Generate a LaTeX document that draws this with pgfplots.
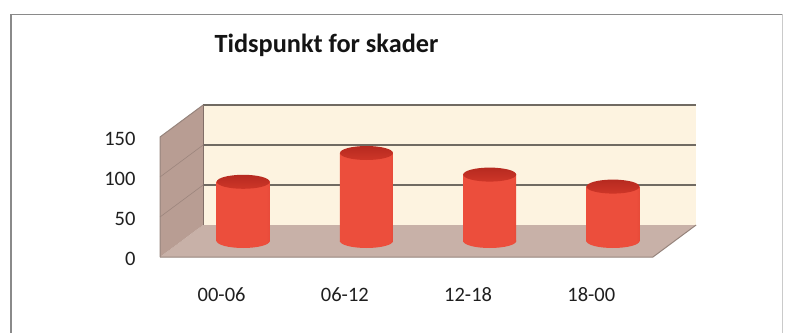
\documentclass[border=0pt]{standalone}
\usepackage{fontspec}
\setmainfont{Carlito}
\usepackage{pgfplots}
\pgfplotsset{compat=1.18}
\usepackage{pgfplotstable}

\definecolor{wallback}{RGB}{253,243,224}
\definecolor{wallside}{RGB}{184,157,147}
\definecolor{floorc}{RGB}{200,177,168}
\definecolor{edgec}{RGB}{150,132,124}
\definecolor{gridc}{RGB}{112,106,98}
\definecolor{cylL}{RGB}{236,78,60}
\definecolor{cylD}{RGB}{200,52,38}
\definecolor{cylR}{RGB}{186,42,30}
\definecolor{cylTop}{RGB}{206,54,40}
\definecolor{cylTopD}{RGB}{182,42,32}
\definecolor{frameC}{RGB}{138,138,138}

% side-lit cylinder surface: dark rims, flat bright middle
\pgfdeclarehorizontalshading{cylsurf}{100bp}{%
  color(0bp)=(cylD); color(12bp)=(cylL); color(72bp)=(cylL); color(100bp)=(cylR)}

% top and bottom faces of the cylinders
\pgfdeclareplotmark{cyltop}{%
  \shade[draw=none, top color=cylTopD, bottom color=cylTop] (0pt,0pt) ellipse (26.5pt and 7pt);}
\pgfdeclareplotmark{cylbot}{%
  \shade[draw=none, shading=cylsurf, shading angle=0] (0pt,0pt) ellipse (26.5pt and 7pt);}

\pgfplotsset{
  cylaxis/.style={
    at={(181.6pt,91pt)}, anchor=south west,
    scale only axis, width=536.1pt, height=152pt,
    xmin=-0.5, xmax=3.85, ymin=0, ymax=190,
    clip=false, hide axis},
  cylbody/.style={ybar, bar width=53pt, bar shift=0pt, draw=none,
    shading=cylsurf, shading angle=0, mark=cyltop},
}

\begin{document}
\begin{tikzpicture}
\useasboundingbox (0pt,0pt) rectangle (786pt,332pt);

% chart frame
\draw[frameC, line width=1.8pt] (11pt,-5pt) -- (11pt,317.5pt) -- (783pt,317.5pt);
\draw[frameC!45, line width=1pt] (782pt,317.5pt) -- (782pt,-5pt);

% walls, floor and value axis (front plane)
\begin{axis}[
  at={(160pt,75pt)}, anchor=south west,
  scale only axis, width=536.1pt, height=152pt,
  xmin=-0.5, xmax=3.85, ymin=0, ymax=190,
  clip=false,
  axis line style={draw=none},
  major tick length=0pt,
  xtick={0,1,2,3},
  xticklabels={00-06,06-12,12-18,18-00},
  ytick={0,50,100,150},
  /pgf/number format/assume math mode=true,
  xticklabel style={anchor=base, yshift=-44.5pt,
    font=\fontsize{20.5}{24}\selectfont, text=black!88},
  yticklabel style={anchor=base east, xshift=-21pt, yshift=-8pt,
    font=\fontsize{20.5}{24}\selectfont, text=black!88},
]
  % floor
  \fill[floorc] (axis cs:-0.5,0) -- (axis cs:3.5,0) -- (axis cs:3.85,40) -- (axis cs:-0.15,40) -- cycle;
  % back wall
  \fill[wallback] (axis cs:-0.15,40) -- (axis cs:3.85,40) -- (axis cs:3.85,190) -- (axis cs:-0.15,190) -- cycle;
  % side wall
  \fill[wallside] (axis cs:-0.5,0) -- (axis cs:-0.5,150) -- (axis cs:-0.15,190) -- (axis cs:-0.15,40) -- cycle;
  % gridlines on the back wall and side wall
  \draw[gridc, line width=1.3pt] (axis cs:-0.15,90) -- (axis cs:3.85,90);
  \draw[gridc, line width=1.3pt] (axis cs:-0.15,140) -- (axis cs:3.85,140);
  \draw[gridc, line width=1.3pt] (axis cs:-0.15,190) -- (axis cs:3.85,190);
  \draw[wallside!85!black, line width=0.6pt] (axis cs:-0.5,50) -- (axis cs:-0.15,90);
  \draw[wallside!85!black, line width=0.6pt] (axis cs:-0.5,100) -- (axis cs:-0.15,140);
  \draw[wallside!70!black, line width=0.8pt] (axis cs:-0.15,40) -- (axis cs:-0.15,190);
  % outlines
  \draw[edgec, line width=1pt] (axis cs:-0.5,0) -- (axis cs:3.5,0) -- (axis cs:3.85,40);
  \draw[edgec, line width=1pt] (axis cs:-0.5,0) -- (axis cs:-0.5,150) -- (axis cs:-0.15,190);
\end{axis}

% bottom faces of the cylinders, on the middle of the floor
\begin{axis}[cylaxis]
  \addplot[only marks, mark=cylbot] coordinates {(0,0) (1,0) (2,0) (3,0)};
\end{axis}

% cylinder bodies with their top faces
\begin{axis}[cylaxis]
  \addplot[cylbody] coordinates {(0,74)};
  \addplot[cylbody] coordinates {(1,110)};
  \addplot[cylbody] coordinates {(2,83)};
  \addplot[cylbody] coordinates {(3,68)};
\end{axis}

\node[anchor=base, font=\bfseries\fontsize{26.3}{31}\selectfont, text=black!92]
  at (326.5pt,279pt) {Tidspunkt for skader};
\end{tikzpicture}
\end{document}
